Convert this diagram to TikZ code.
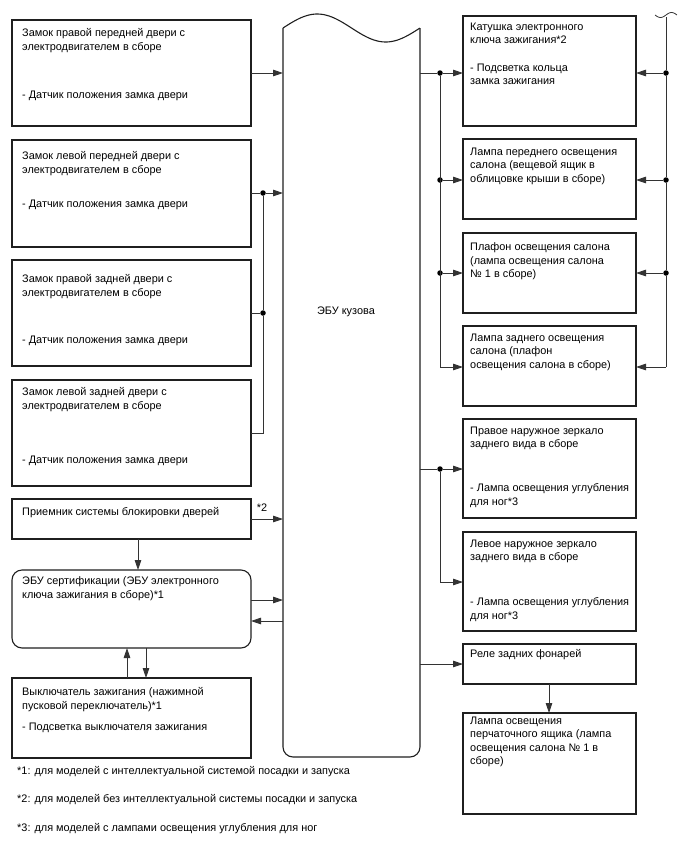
\documentclass[tikz,border=0pt]{standalone}
\usepackage{fontspec}
\setmainfont{Liberation Sans}
\usetikzlibrary{arrows.meta}
\begin{document}
\begin{tikzpicture}[x=1pt,y=-1pt,
 box/.style={draw=black!88, line width=1.1pt, anchor=north west, inner sep=0pt, outer sep=0pt},
 lbox/.style={box, minimum width=239pt},
 rbox/.style={box, minimum width=173pt},
 txt/.style={anchor=north west, inner sep=0pt, align=left, font=\fontsize{10.9}{13.4}\selectfont, execute at begin node=\strut},
 con/.style={draw=black!80, line width=0.8pt},
 arr/.style={con, -{Triangle[length=10pt,width=6.5pt]}},
 dot/.style={circle, fill=black, inner sep=0pt, minimum size=5.5pt},
]
\useasboundingbox (0,0) rectangle (688,852);

% ---- ECU body ----
\node[anchor=north west, inner sep=0pt, outer sep=0pt, minimum width=137pt, minimum height=729pt] (ecu) at (283,28) {};
\draw[black!88, line width=1.1pt] plot[domain=0:1, samples=60, smooth] ({283+137*\x},{28-14*sin(360*\x)});
\draw[black!88, line width=1.1pt, rounded corners=10pt] (ecu.north east) -- (ecu.south east) -- (ecu.south west) -- (ecu.north west);
\node[font=\fontsize{10.9}{13.4}\selectfont, inner sep=0pt] (ecut) at (346,312) {ЭБУ кузова};

% ---- left boxes ----
\node[lbox, minimum height=106pt] (b1) at (12,20) {};
\node[lbox, minimum height=107pt] (b2) at (12,140) {};
\node[lbox, minimum height=106pt] (b3) at (12,260) {};
\node[lbox, minimum height=106pt] (b4) at (12,380) {};
\node[lbox, minimum height=40pt] (b5) at (12,499) {};
\node[lbox, minimum height=78pt, rounded corners=10pt] (b6) at (12,570) {};
\node[lbox, minimum height=80pt] (b7) at (12,678) {};

\node[txt] (b1a) at (22,28.5) {Замок правой передней двери с\\электродвигателем в сборе};
\node[txt] (b1b) at (22,88.5) {- Датчик положения замка двери};
\node[txt] (b2a) at (22,151.5) {Замок левой передней двери с\\электродвигателем в сборе};
\node[txt] (b2b) at (22,197.5) {- Датчик положения замка двери};
\node[txt] (b3a) at (22,274.5) {Замок правой задней двери с\\электродвигателем в сборе};
\node[txt] (b3b) at (22,333.5) {- Датчик положения замка двери};
\node[txt] (b4a) at (22,387.5) {Замок левой задней двери с\\электродвигателем в сборе};
\node[txt] (b4b) at (22,453.5) {- Датчик положения замка двери};
\node[txt] (b5a) at (22,505.5) {Приемник системы блокировки дверей};
\node[txt] (b6a) at (22,576.5) {ЭБУ сертификации (ЭБУ электронного\\ключа зажигания в сборе)*1};
\node[txt] (b7a) at (22,687.5) {Выключатель зажигания (нажимной\\пусковой переключатель)*1};
\node[txt] (b7b) at (22,720.5) {- Подсветка выключателя зажигания};

% ---- right boxes ----
\node[rbox, minimum height=110pt] (r1) at (463,16) {};
\node[rbox, minimum height=80pt] (r2) at (463,139) {};
\node[rbox, minimum height=80pt] (r3) at (463,233) {};
\node[rbox, minimum height=80pt] (r4) at (463,326) {};
\node[rbox, minimum height=99pt] (r5) at (463,419) {};
\node[rbox, minimum height=99pt] (r6) at (463,532) {};
\node[rbox, minimum height=40pt] (r7) at (463,644) {};
\node[rbox, minimum height=101pt] (r8) at (463,713) {};

\node[txt] (r1a) at (470,22.5) {Катушка электронного\\ключа зажигания*2};
\node[txt] (r1b) at (470,63.5) {- Подсветка кольца\\замка зажигания};
\node[txt] (r2a) at (470,147.5) {Лампа переднего освещения\\салона (вещевой ящик в\\облицовке крыши в сборе)};
\node[txt] (r3a) at (470,242.5) {Плафон освещения салона\\(лампа освещения салона\\№ 1 в сборе)};
\node[txt] (r4a) at (470,333.5) {Лампа заднего освещения\\салона (плафон\\освещения салона в сборе)};
\node[txt] (r5a) at (470,426.5) {Правое наружное зеркало\\заднего вида в сборе};
\node[txt] (r5b) at (470,483.5) {- Лампа освещения углубления\\для ног*3};
\node[txt] (r6a) at (470,539.5) {Левое наружное зеркало\\заднего вида в сборе};
\node[txt] (r6b) at (470,597.5) {- Лампа освещения углубления\\для ног*3};
\node[txt] (r7a) at (470,647.5) {Реле задних фонарей};
\node[txt] (r8a) at (470,716.5) {Лампа освещения\\перчаточного ящика (лампа\\освещения салона № 1 в\\сборе)};

% ---- footnotes ----
\node[txt] (f1) at (17,764.5) {*1: для моделей с интеллектуальной системой посадки и запуска};
\node[txt] (f2) at (17,792.5) {*2: для моделей без интеллектуальной системы посадки и запуска};
\node[txt] (f3) at (17,821.5) {*3: для моделей с лампами освещения углубления для ног};

% ---- left connectors ----
\coordinate (c1) at (251,73);
\draw[arr] (c1) -- (c1 -| ecu.west);
\node[dot] (dl2) at (263,193) {};
\node[dot] (dl3) at (263,313) {};
\coordinate (cl4) at (263,433);
\draw[con] (b2.east |- dl2) -- (dl2);
\draw[arr] (dl2) -- (dl2 -| ecu.west);
\draw[con] (b3.east |- dl3) -- (dl3);
\draw[con] (b4.east |- cl4) -- (cl4) -- (dl3) -- (dl2);
\coordinate (c5) at (251,519);
\draw[arr] (c5) -- (c5 -| ecu.west);
\node[font=\fontsize{10.9}{13.4}\selectfont, inner sep=0pt] (s2) at (262,508) {*2};
\draw[arr] (b5.south -| 138,0) -- (b6.north -| 138,0);
\coordinate (c6a) at (251,600);
\coordinate (c6b) at (251,621);
\draw[arr] (c6a) -- (c6a -| ecu.west);
\draw[arr] (c6b -| ecu.west) -- (c6b);
\draw[arr] (b7.north -| 127,0) -- (b6.south -| 127,0);
\draw[arr] (b6.south -| 146,0) -- (b7.north -| 146,0);

% ---- right connectors (left bus) ----
\node[dot] (dr1) at (440,73) {};
\node[dot] (dr2) at (440,180) {};
\node[dot] (dr3) at (440,273) {};
\coordinate (cr4) at (440,367);
\draw[con] (ecu.east |- dr1) -- (dr1);
\draw[arr] (dr1) -- (r1.west |- dr1);
\draw[arr] (dr2) -- (r2.west |- dr2);
\draw[arr] (dr3) -- (r3.west |- dr3);
\draw[arr] (dr1) -- (cr4) -- (r4.west |- cr4);

% ---- right bus ----
\coordinate (top) at (666,17);
\draw[black!80, line width=0.8pt] plot[domain=0:1, samples=30, smooth] ({655+22*\x},{15+2.5*sin(360*\x)});
\node[dot] (dq1) at (666,73) {};
\node[dot] (dq2) at (666,180) {};
\node[dot] (dq3) at (666,273) {};
\coordinate (cq4) at (666,367);
\draw[con] (top) -- (dq1) -- (dq2) -- (dq3) -- (cq4);
\draw[arr] (dq1) -- (r1.east |- dq1);
\draw[arr] (dq2) -- (r2.east |- dq2);
\draw[arr] (dq3) -- (r3.east |- dq3);
\draw[arr] (cq4) -- (r4.east |- cq4);

% ---- mirrors ----
\node[dot] (dm) at (440,469) {};
\coordinate (cm) at (440,582);
\draw[con] (ecu.east |- dm) -- (dm);
\draw[arr] (dm) -- (r5.west |- dm);
\draw[arr] (dm) -- (cm) -- (r6.west |- cm);

% ---- relay ----
\coordinate (c7) at (420,664);
\draw[arr] (c7) -- (r7.west |- c7);
\draw[arr] (r7.south -| 549,0) -- (r8.north -| 549,0);
\end{tikzpicture}
\end{document}
